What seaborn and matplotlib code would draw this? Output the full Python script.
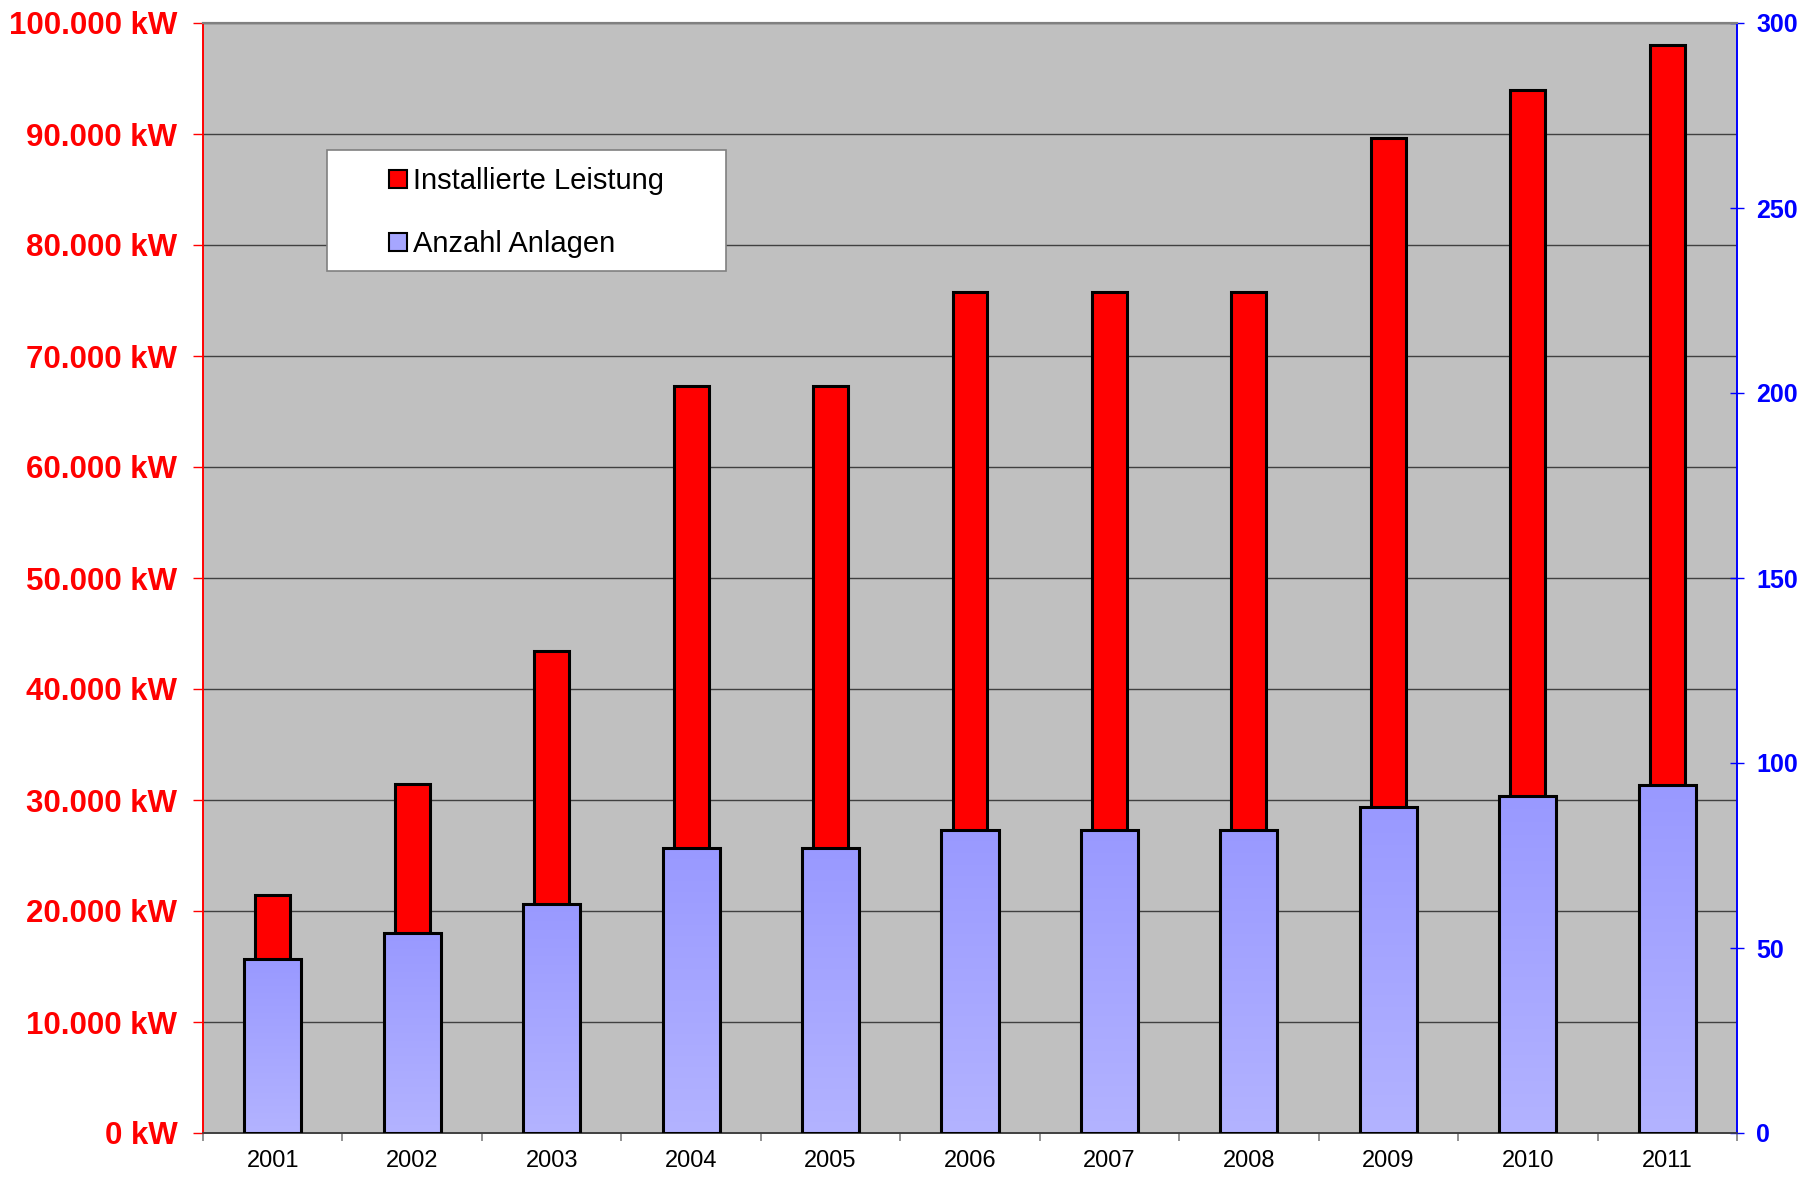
import numpy as np
import pandas as pd
import matplotlib
matplotlib.use("Agg")
import matplotlib.pyplot as plt
import matplotlib.ticker as ticker
from matplotlib.patches import Rectangle, Patch
import seaborn as sns

# data
jahre = ["2001", "2002", "2003", "2004", "2005", "2006", "2007", "2008", "2009", "2010", "2011"]
leistung_kw = [21400, 31400, 43400, 67300, 67300, 75800, 75800, 75800, 89600, 94000, 98000]
anzahl_anlagen = [47, 54, 62, 77, 77, 82, 82, 82, 88, 91, 94]

df = pd.DataFrame({"Jahr": jahre, "Leistung": leistung_kw, "Anlagen": anzahl_anlagen})

plt.rcParams['font.family'] = ['Liberation Sans', 'DejaVu Sans']

fig = plt.figure(figsize=(18.14, 11.77), dpi=100)
ax = fig.add_axes([203/1814, 44/1177, 1534/1814, 1110/1177])
ax2 = ax.twinx()

sns.barplot(data=df, x="Jahr", y="Leistung", ax=ax, color="#FF0000", saturation=1,
            width=0.25, edgecolor="black", linewidth=2.2, zorder=3)
sns.barplot(data=df, x="Jahr", y="Anlagen", ax=ax2, color="#A6A6FF", saturation=1,
            width=0.41, edgecolor="black", linewidth=2.2, zorder=3)

ax.set_ylim(0, 100000)
ax2.set_ylim(0, 300)
ax.set_xlim(-0.5, len(jahre) - 0.5)

# gradient fill for the blue bars (darker on top)
grad = np.linspace(0, 1, 256).reshape(-1, 1)
cmap = matplotlib.colors.LinearSegmentedColormap.from_list("bl", ["#9999FF", "#B3B3FF"])
for p in list(ax2.patches):
    x0, y0 = p.get_x(), p.get_y()
    w, h = p.get_width(), p.get_height()
    im = ax2.imshow(grad, cmap=cmap, extent=(x0, x0 + w, y0, y0 + h), aspect="auto",
                    zorder=2.9, origin="upper")
    im.set_clip_path(p)
    p.set_facecolor("none")
ax2.set_xlim(-0.5, len(jahre) - 0.5)
ax2.set_ylim(0, 300)

ax.set_facecolor("#C0C0C0")
ax2.patch.set_visible(False)
ax.set_axisbelow(True)
ax.yaxis.grid(True, color="#404040", linewidth=1.0, zorder=0)
ax.xaxis.grid(False)

ax.set_xlabel("")
ax.set_ylabel("")
ax2.set_xlabel("")
ax2.set_ylabel("")

# left axis
ax.yaxis.set_major_locator(ticker.MultipleLocator(10000))
ax.yaxis.set_major_formatter(ticker.FuncFormatter(lambda v, pos: f"{int(v):,} kW".replace(",", ".")))
ax.tick_params(axis="y", colors="#FF0000", labelcolor="#FF0000", length=7, width=1, pad=11.5,
               labelsize=22.5)
for t in ax.get_yticklabels():
    t.set_fontweight("bold")

# right axis
ax2.yaxis.set_major_locator(ticker.MultipleLocator(50))
ax2.tick_params(axis="y", colors="#0000FF", labelcolor="#0000FF", direction="inout", length=10,
                width=1, pad=9, labelsize=18)
for t in ax2.get_yticklabels():
    t.set_fontweight("bold")

# x axis: labels at centres, tick marks between categories
ax.set_xticks(range(len(jahre)))
ax.set_xticklabels(jahre)
ax.set_xticks(np.arange(-0.5, len(jahre)), minor=True)
ax.tick_params(axis="x", which="major", length=0, pad=12, labelsize=17, colors="black")
ax.tick_params(axis="x", which="minor", length=6, width=1.2, color="#808080")
ax2.tick_params(axis="x", which="both", length=0, labelbottom=False)

for a in (ax, ax2):
    a.spines["left"].set_color("#FF0000")
    a.spines["left"].set_linewidth(1.2)
    a.spines["right"].set_color("#0000FF")
    a.spines["right"].set_linewidth(1.2)
    a.spines["top"].set_color("#808080")
    a.spines["top"].set_linewidth(1.5)
    a.spines["bottom"].set_color("#404040")
    a.spines["bottom"].set_linewidth(1.2)

# legend box
ax2.add_patch(Rectangle((0.081, 0.777), 0.26, 0.109, transform=ax2.transAxes,
                        facecolor="white", edgecolor="#808080", linewidth=1.2, zorder=5))
handles = [Patch(facecolor="#FF0000", edgecolor="black", linewidth=1.5, label="Installierte Leistung"),
           Patch(facecolor="#A6A6FF", edgecolor="black", linewidth=1.5, label="Anzahl Anlagen")]
leg = ax2.legend(handles=handles, loc="center", bbox_to_anchor=(0.2109, 0.829), frameon=False,
                 fontsize=21, handlelength=0.6, handleheight=0.6, handletextpad=0.2,
                 labelspacing=1.2, borderpad=0)
leg.set_zorder(6)

fig.savefig("out.png", dpi=100)
